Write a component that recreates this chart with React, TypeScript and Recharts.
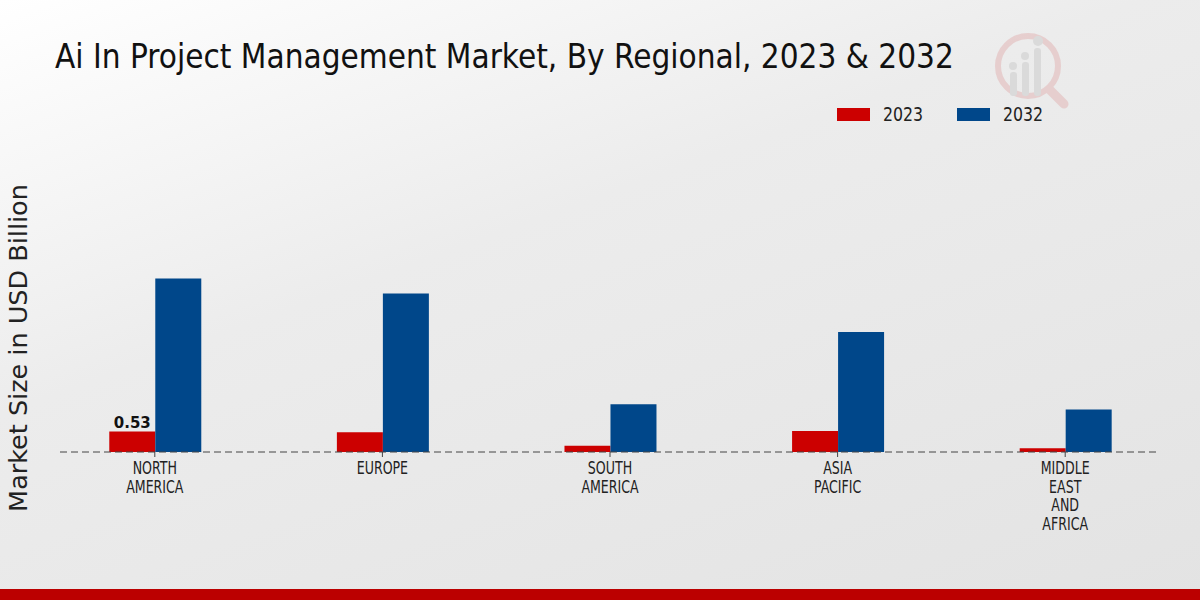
import React from "react";
import { BarChart, Bar, XAxis, YAxis, Legend, LabelList } from "recharts";

const categories = ["NORTH AMERICA", "EUROPE", "SOUTH AMERICA", "ASIA PACIFIC", "MIDDLE EAST AND AFRICA"];
const tickLines = [["NORTH", "AMERICA"], ["EUROPE"], ["SOUTH", "AMERICA"], ["ASIA", "PACIFIC"], ["MIDDLE", "EAST", "AND", "AFRICA"]];
const values2023 = [0.53, 0.51, 0.16, 0.54, 0.1];
const values2032 = [4.48, 4.09, 1.23, 3.1, 1.1];
const shownLabels2023 = ["0.53", "", "", "", ""];
const seriesNames = ["2023", "2032"];
const colors = ["#cc0000", "#00478a"];

const data = categories.map((c, i) => ({
  name: c,
  v2023: values2023[i],
  v2032: values2032[i],
  lbl: shownLabels2023[i],
}));

const FONT = "'DejaVu Sans', sans-serif";
const COND = "'DejaVu Sans Condensed', 'DejaVu Sans', sans-serif";

const Tick = (props: any) => {
  const { x, y, payload } = props;
  const idx = categories.indexOf(payload.value);
  const lines = tickLines[idx] || [payload.value];
  return (
    <g transform={`translate(${x},${y})`}>
      {lines.map((l: string, i: number) => (
        <text key={i} x={0} y={15 + i * 18.6} textAnchor="middle" fill="#222" fontSize={17.5}
          transform="scale(0.8,1)" style={{ fontFamily: COND }}>
          {l}
        </text>
      ))}
    </g>
  );
};

const LegendContent = () => (
  <div style={{ position: "relative", height: 24, fontFamily: FONT, fontSize: 19, color: "#222" }}>
    {seriesNames.map((s, i) => (
      <div key={s} style={{ position: "absolute", left: i * 120, top: 0, display: "flex", alignItems: "center", height: 24 }}>
        <div style={{ width: 33, height: 13, background: colors[i], marginRight: 13 }} />
        <span style={{ display: "inline-block", transform: "scaleX(0.83)", transformOrigin: "left center", lineHeight: "24px" }}>{s}</span>
      </div>
    ))}
  </div>
);

const renderLabel = (props: any) => {
  const { x, y, width, value } = props;
  if (!value) return null;
  return (
    <text x={x + width / 2} y={y - 3} textAnchor="middle" fontSize={15} fontWeight="bold" fill="#111"
      style={{ fontFamily: FONT }}>
      {value}
    </text>
  );
};

export default function App() {
  return (
    <div style={{ position: "absolute", left: 0, top: 0, width: 1200, height: 600, overflow: "hidden",
      background: "linear-gradient(160deg, #ffffff 0%, #ececec 40%, #e3e3e3 100%)" }}>
      <div style={{ position: "absolute", left: 55, top: 37, fontFamily: COND, fontSize: 33, color: "#111", whiteSpace: "nowrap" }}>
        Ai In Project Management Market, By Regional, 2023 &amp; 2032
      </div>
      <svg width={80} height={80} style={{ position: "absolute", left: 992, top: 30, opacity: 0.35 }}>
        <circle cx={36} cy={36} r={30} fill="none" stroke="#d99" strokeWidth={6} />
        <line x1={58} y1={60} x2={72} y2={74} stroke="#d99" strokeWidth={9} strokeLinecap="round" />
        <rect x={18} y={42} width={7} height={24} rx={3} fill="#bbb" />
        <rect x={30} y={32} width={7} height={34} rx={3} fill="#bbb" />
        <rect x={42} y={18} width={7} height={48} rx={3} fill="#bbb" />
        <circle cx={21} cy={36} r={4} fill="#bbb" />
        <circle cx={33} cy={26} r={4} fill="#bbb" />
        <circle cx={46} cy={11} r={5} fill="#bbb" />
      </svg>
      <div style={{ position: "absolute", left: 0, top: 589, width: 1200, height: 11, background: "#bb0000" }} />
      <BarChart width={1200} height={600} data={data} margin={{ top: 118, right: 42, bottom: 118, left: 0 }}
        barCategoryGap="30%" barGap={0}>
        <XAxis dataKey="name" interval={0} tick={<Tick />} tickSize={5}
          tickLine={{ stroke: "#444" }} axisLine={{ stroke: "#444", strokeDasharray: "7 4" }}
          padding={{ left: -19, right: -21 }} />
        <YAxis width={60} domain={[0, 8]} tick={false} axisLine={false} tickLine={false}
          label={{ value: "Market Size in USD Billion", angle: -90, position: "center", dx: -12, dy: 51,
            style: { fontFamily: FONT, fontSize: 25.5, fill: "#222" } }} />
        <Legend verticalAlign="top" content={<LegendContent />}
          wrapperStyle={{ position: "absolute", left: 837, top: 102, width: 260 }} />
        <Bar dataKey="v2023" name={seriesNames[0]} fill={colors[0]} isAnimationActive={false}>
          <LabelList dataKey="lbl" content={renderLabel} />
        </Bar>
        <Bar dataKey="v2032" name={seriesNames[1]} fill={colors[1]} isAnimationActive={false} />
      </BarChart>
    </div>
  );
}
